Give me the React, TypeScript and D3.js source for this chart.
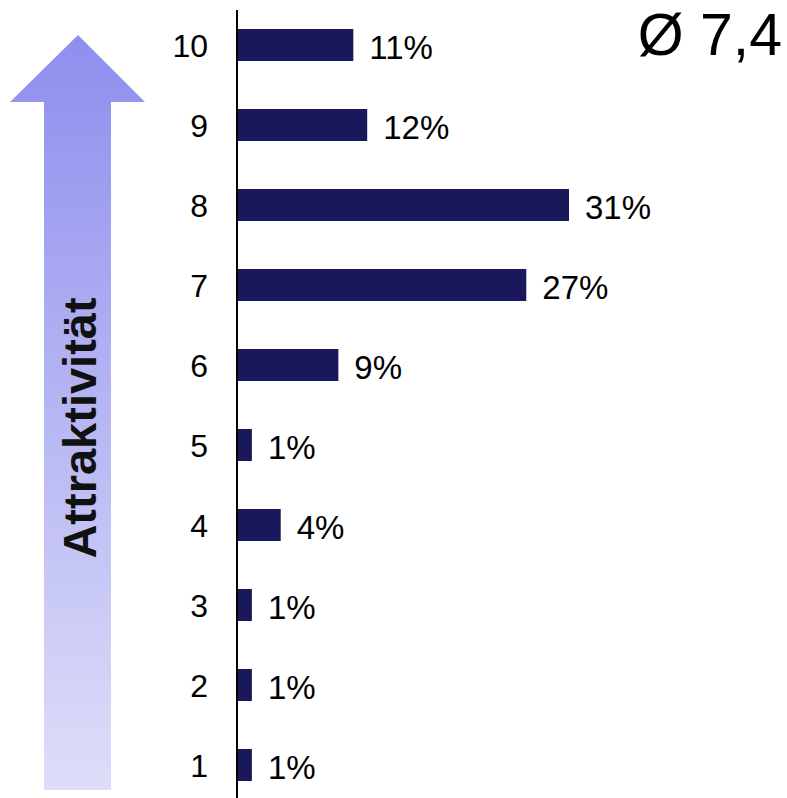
import * as d3 from 'd3';
import { useEffect, useRef } from 'react';

// Attraktivität rating 1..10, share of answers in percent
const ratings = ['10', '9', '8', '7', '6', '5', '4', '3', '2', '1'];
const shares = [10.8, 12.1, 31.0, 27.0, 9.4, 1.3, 4.0, 1.3, 1.3, 1.3];
const axisTitle = 'Attraktivität';
const meanLabel = 'Ø 7,4';

const width = 787;
const height = 798;

const App = () => {
  const ref = useRef<SVGSVGElement | null>(null);

  useEffect(() => {
    if (!ref.current) return;
    document.body.style.margin = '0';

    const svg = d3.select(ref.current);
    svg.selectAll('*').remove();
    svg.attr('width', width).attr('height', height);

    const font = '"Liberation Sans", Arial, sans-serif';

    // gradient arrow on the left
    const defs = svg.append('defs');
    const grad = defs
      .append('linearGradient')
      .attr('id', 'arrowGrad')
      .attr('x1', 0)
      .attr('y1', 0)
      .attr('x2', 0)
      .attr('y2', 1);
    grad.append('stop').attr('offset', '0%').attr('stop-color', '#8e8eee');
    grad.append('stop').attr('offset', '100%').attr('stop-color', '#dedef9');

    const arrow = d3.path();
    arrow.moveTo(78, 35);
    arrow.lineTo(145, 102);
    arrow.lineTo(111, 102);
    arrow.lineTo(111, 790);
    arrow.lineTo(44, 790);
    arrow.lineTo(44, 102);
    arrow.lineTo(10, 102);
    arrow.closePath();
    svg.append('path').attr('d', arrow.toString()).attr('fill', 'url(#arrowGrad)');

    svg
      .append('text')
      .attr('transform', 'translate(96, 428) rotate(-90)')
      .attr('text-anchor', 'middle')
      .attr('font-family', font)
      .attr('font-weight', 'bold')
      .attr('font-size', 47)
      .attr('fill', '#111')
      .text(axisTitle);

    const x = d3.scaleLinear().domain([0, 31]).range([238, 569]);
    const y = d3
      .scaleBand<string>()
      .domain(ratings)
      .range([5, 805])
      .paddingInner(0.6)
      .paddingOuter(0.3);

    const data = ratings.map((r, i) => ({ rating: r, share: shares[i] }));

    svg
      .selectAll('rect.bar')
      .data(data)
      .enter()
      .append('rect')
      .attr('class', 'bar')
      .attr('x', x(0))
      .attr('y', d => y(d.rating)!)
      .attr('width', d => x(d.share) - x(0))
      .attr('height', y.bandwidth())
      .attr('fill', '#18185a');

    // vertical axis line
    svg
      .append('line')
      .attr('x1', 237)
      .attr('x2', 237)
      .attr('y1', 10)
      .attr('y2', height)
      .attr('stroke', '#000')
      .attr('stroke-width', 2);

    svg
      .selectAll('text.cat')
      .data(data)
      .enter()
      .append('text')
      .attr('class', 'cat')
      .attr('x', 208)
      .attr('y', d => y(d.rating)! + y.bandwidth() / 2 + 12)
      .attr('text-anchor', 'end')
      .attr('font-family', font)
      .attr('font-size', 32)
      .attr('fill', '#000')
      .text(d => d.rating);

    const fmt = (v: number) => `${Math.round(v)}%`;
    svg
      .selectAll('text.val')
      .data(data)
      .enter()
      .append('text')
      .attr('class', 'val')
      .attr('x', d => x(d.share) + 16)
      .attr('y', d => y(d.rating)! + y.bandwidth() / 2 + 14)
      .attr('font-family', font)
      .attr('font-size', 33)
      .attr('fill', '#000')
      .text(d => fmt(d.share));

    svg
      .append('text')
      .attr('x', 782)
      .attr('y', 55)
      .attr('text-anchor', 'end')
      .attr('font-family', font)
      .attr('font-size', 59)
      .attr('fill', '#000')
      .text(meanLabel);
  }, []);

  return <svg ref={ref} style={{ display: 'block' }} />;
};

export default App;
